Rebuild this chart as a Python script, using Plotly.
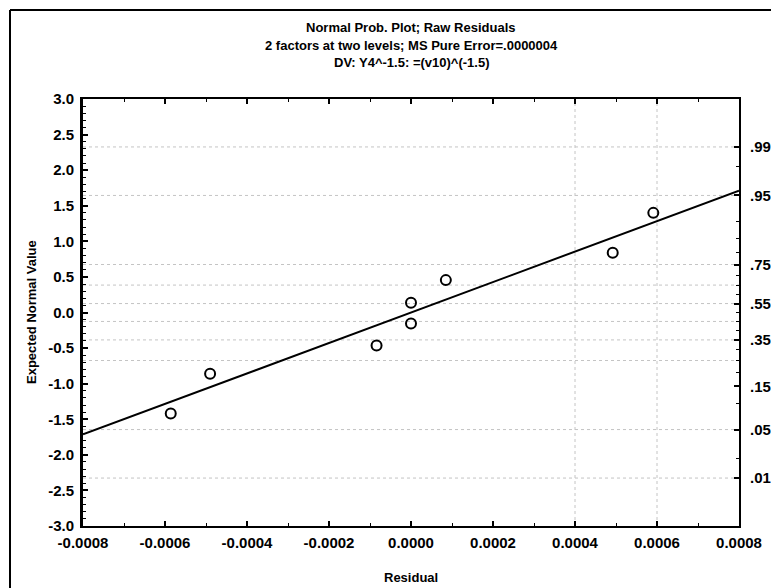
import plotly.graph_objects as go
from statistics import NormalDist

# Raw residuals and their expected normal scores
residuals = [-0.000586, -0.000490, -0.000084, 0.000000, 0.000000, 0.000085, 0.000492, 0.000591]
expected_normal = [-1.42, -0.86, -0.465, -0.155, 0.137, 0.455, 0.84, 1.40]

# Reference line through the residuals (expected value = slope * residual + intercept)
fit_slope = 2140.0
fit_intercept = 0.0

x_range = [-0.0008, 0.0008]
y_range = [-3.0, 3.0]

x_tick_vals = [-0.0008, -0.0006, -0.0004, -0.0002, 0.0, 0.0002, 0.0004, 0.0006, 0.0008]
x_tick_text = ["-0.0008", "-0.0006", "-0.0004", "-0.0002", "0.0000", "0.0002", "0.0004", "0.0006", "0.0008"]
y_tick_vals = [-3.0, -2.5, -2.0, -1.5, -1.0, -0.5, 0.0, 0.5, 1.0, 1.5, 2.0, 2.5, 3.0]
y_tick_text = ["-3.0", "-2.5", "-2.0", "-1.5", "-1.0", "-0.5", "0.0", "0.5", "1.0", "1.5", "2.0", "2.5", "3.0"]

# Cumulative probability scale on the right
prob_vals = [0.01, 0.05, 0.15, 0.35, 0.55, 0.75, 0.95, 0.99]
prob_text = [".01", ".05", ".15", ".35", ".55", ".75", ".95", ".99"]
prob_minor = [0.02, 0.10, 0.20, 0.25, 0.30, 0.40, 0.45, 0.50, 0.60, 0.65, 0.70, 0.80, 0.85, 0.90, 0.98]
prob_grid = [0.01, 0.05, 0.25, 0.35, 0.45, 0.55, 0.65, 0.75, 0.95, 0.99]
x_grid = [0.0004, 0.0006]

title_lines = [
    "Normal Prob. Plot; Raw Residuals",
    "2 factors at two levels; MS Pure Error=.0000004",
    "DV: Y4^-1.5: =(v10)^(-1.5)",
]

z = NormalDist()
prob_z = [z.inv_cdf(p) for p in prob_vals]
minor_z = [z.inv_cdf(p) for p in prob_minor]
grid_z = [z.inv_cdf(p) for p in prob_grid]

W, H = 771, 588
ML, MR, MT, MB = 83, 32, 99, 62
PW, PH = W - ML - MR, H - MT - MB


def px_x(px):
    return (px - ML) / PW


def px_y(py):
    return 1 - (py - MT) / PH


FONT = "Liberation Sans, Arial, sans-serif"

fig = go.Figure()

fit_x = list(x_range)
fit_y = [fit_slope * v + fit_intercept for v in fit_x]
fig.add_trace(go.Scatter(x=fit_x, y=fit_y, mode="lines",
                         line=dict(color="black", width=2), hoverinfo="skip"))

fig.add_trace(go.Scatter(x=residuals, y=expected_normal, mode="markers",
                         marker=dict(symbol="circle-open", size=10, color="black",
                                     line=dict(width=2, color="black"))))

# invisible trace carrying the probability axis
fig.add_trace(go.Scatter(x=[None], y=[None], yaxis="y2", showlegend=False))

shapes = []
for gz in grid_z:
    shapes.append(dict(type="line", xref="paper", yref="y", x0=0, x1=1, y0=gz, y1=gz,
                       line=dict(color="#c4c4c4", width=1, dash="dot"), layer="below"))
for gx in x_grid:
    shapes.append(dict(type="line", xref="x", yref="paper", x0=gx, x1=gx, y0=0, y1=1,
                       line=dict(color="#c4c4c4", width=1, dash="dot"), layer="below"))
# page frame (top and left edges)
shapes.append(dict(type="line", xref="paper", yref="paper",
                   x0=px_x(10), x1=px_x(W), y0=px_y(10), y1=px_y(10),
                   line=dict(color="black", width=2)))
shapes.append(dict(type="line", xref="paper", yref="paper",
                   x0=px_x(10), x1=px_x(10), y0=px_y(10), y1=px_y(H),
                   line=dict(color="black", width=2)))

annotations = []
for i, line in enumerate(title_lines):
    annotations.append(dict(text=line, xref="paper", yref="paper", x=0.5,
                            y=px_y(27 + 18 * i), xanchor="center", yanchor="middle",
                            showarrow=False,
                            font=dict(family=FONT, size=13, color="black", weight="bold")))
annotations.append(dict(text="Residual", xref="paper", yref="paper", x=0.5,
                        y=px_y(577), xanchor="center", yanchor="middle", showarrow=False,
                        font=dict(family=FONT, size=13, color="black", weight="bold")))
annotations.append(dict(text="Expected Normal Value", xref="paper", yref="paper",
                        x=px_x(31), y=px_y(312), xanchor="center", yanchor="middle",
                        textangle=-90, showarrow=False,
                        font=dict(family=FONT, size=13, color="black", weight="bold")))

tick_font = dict(family=FONT, size=15, color="black", weight="bold")

fig.update_layout(
    width=W, height=H,
    margin=dict(l=ML, r=MR, t=MT, b=MB, pad=0, autoexpand=False),
    paper_bgcolor="white", plot_bgcolor="white",
    showlegend=False,
    shapes=shapes,
    annotations=annotations,
    xaxis=dict(range=x_range, tickvals=x_tick_vals, ticktext=x_tick_text,
               ticks="inside", ticklen=5, tickwidth=2, tickcolor="black",
               minor=dict(ticks="inside", ticklen=3, tickwidth=1, tickcolor="black", dtick=0.0001),
               showgrid=False, zeroline=False, automargin=False,
               showline=True, linecolor="black", linewidth=2, mirror="ticks",
               tickfont=tick_font, ticklabelstandoff=2),
    yaxis=dict(range=y_range, tickvals=y_tick_vals, ticktext=y_tick_text,
               ticks="inside", ticklen=5, tickwidth=2, tickcolor="black",
               minor=dict(ticks="inside", ticklen=3, tickwidth=1, tickcolor="black", dtick=0.1),
               showgrid=False, zeroline=False, automargin=False,
               showline=True, linecolor="black", linewidth=3,
               tickfont=tick_font, ticklabelstandoff=3),
    yaxis2=dict(range=y_range, overlaying="y", side="right",
                tickvals=prob_z, ticktext=prob_text,
                ticks="inside", ticklen=5, tickwidth=2, tickcolor="black",
                minor=dict(ticks="inside", ticklen=3, tickwidth=1, tickcolor="black",
                           tickvals=minor_z),
                showgrid=False, zeroline=False, automargin=False,
                showline=True, linecolor="black", linewidth=2,
                tickfont=tick_font, ticklabelstandoff=6),
)

fig.write_html("out.html")
